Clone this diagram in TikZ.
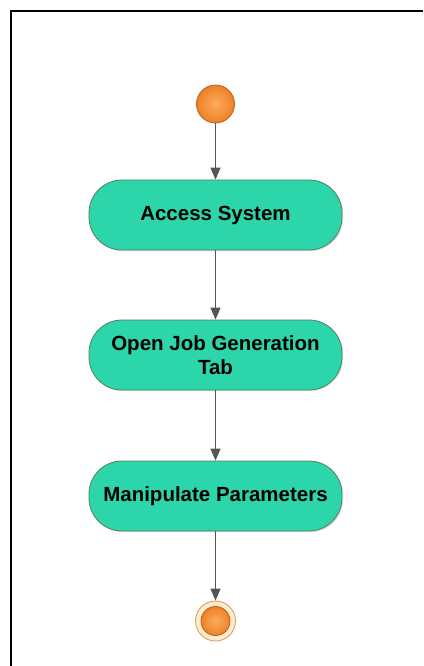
\documentclass[tikz,border=0pt]{standalone}
\usepackage{fontspec}
\setmainfont{Liberation Sans}
\usetikzlibrary{arrows.meta,shadows}

\definecolor{actfill}{RGB}{45,214,170}
\definecolor{actline}{RGB}{82,128,96}
\definecolor{dotfill}{RGB}{240,128,38}
\definecolor{dotlight}{RGB}{250,172,95}
\definecolor{dotline}{RGB}{178,98,30}
\definecolor{ringfill}{RGB}{253,236,208}
\definecolor{ringline}{RGB}{226,150,78}
\definecolor{flowline}{RGB}{85,85,85}

\begin{document}
\begin{tikzpicture}[x=1pt, y=-1pt]

\tikzstyle{activity}=[rectangle, rounded corners=33pt, draw=actline, line width=0.8pt, fill=actfill, minimum width=253pt, minimum height=70pt, align=center, font=\bfseries\fontsize{20.5}{24.5}\selectfont, drop shadow={opacity=0.25, shadow xshift=1.2pt, shadow yshift=-1.2pt}]
\tikzstyle{startdot}=[circle, draw=dotline, line width=0.8pt, inner color=dotlight, outer color=dotfill, minimum size=38pt, inner sep=0pt]
\tikzstyle{endring}=[circle, draw=ringline, line width=0.8pt, fill=ringfill, minimum size=40pt, inner sep=0pt]
\tikzstyle{arrow}=[-{Triangle[length=12pt,width=10pt]}, draw=flowline, fill=flowline, line width=1.2pt]

\useasboundingbox (0,0) rectangle (423,666);

% frame
\draw [line width=2pt] (11,666) -- (11,11) -- (423,11);

\node (start) [startdot] at (215.5,104) {};

\node (access) [activity] at (215.5,215) {Access System};

\node (openjob) [activity] at (215.5,355) {Open Job Generation\\Tab};

\node (manip) [activity] at (215.5,496) {Manipulate Parameters};

\node (end) [endring] at (215.5,621) {};
\node (endcore) [startdot, minimum size=29pt] at (end) {};

\draw [arrow] (start) -- (access);
\draw [arrow] (access) -- (openjob);
\draw [arrow] (openjob) -- (manip);
\draw [arrow] (manip) -- (end);

\end{tikzpicture}
\end{document}
